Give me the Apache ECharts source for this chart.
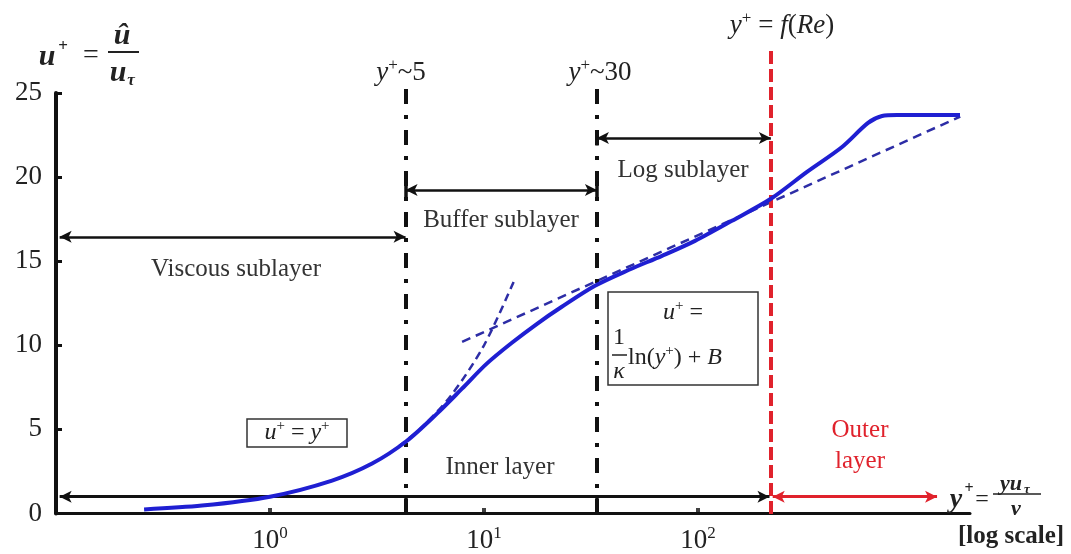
<!DOCTYPE html>
<html>
<head>
<meta charset="utf-8">
<script src="https://cdn.jsdelivr.net/npm/echarts@6/dist/echarts.min.js"></script>
<style>
  html, body { margin: 0; padding: 0; background: #fff; }
  #chart { width: 1071px; height: 554px; }
</style>
</head>
<body>
<div id="chart"></div>
<script>
// Mean velocity profile in wall units (u+ against y+, log scale)
const profileYPlus = [0.258, 0.481, 1.0, 1.95, 3.0, 4.32, 6.03, 7.89, 10.3, 13.5, 17.7, 23.1, 33.0, 47.6, 67.9, 96.8, 144, 219, 323, 471, 623, 724, 851, 1676];
const profileUPlus = [0.24, 0.47, 1.0, 1.96, 2.97, 4.28, 5.94, 7.42, 8.91, 10.15, 11.28, 12.29, 13.54, 14.49, 15.32, 16.21, 17.40, 18.71, 20.31, 21.79, 23.22, 23.63, 23.69, 23.69];

// Viscous-sublayer law u+ = y+ (dashed)
const linearYPlus = [4, 5, 7, 10, 14];
const linearUPlus = [4, 5, 7, 10, 14];

// Log law (dashed)
const logLawYPlus = [7.9, 1680];
const logLawUPlus = [10.2, 23.6];

// Region boundaries in y+
const viscousEdge = 4.3;
const bufferEdge = 33.7;
const outerEdge = 219;

// Axis ranges and tick labels
const xMin = 0.1, xMax = 1866;
const yMin = 0, yMax = 25, yStep = 5;
const xTickValues = [1, 10, 100];
const xTickExponents = ['0', '1', '2'];

// Tops of the boundary lines (u+ units, above the plotted range)
const boundaryTop = 25.36;
const outerBoundaryTop = 27.67;

// Heights of the span arrows (u+ units)
const viscousArrowU = 16.45;
const bufferArrowU = 19.24;
const logArrowU = 22.33;
const layerArrowU = 1.0;
const outerArrowEnd = 1309;
const axisStart = 0.104;

const serif = "'Liberation Serif', 'Times New Roman', serif";
const ink = '#222';
const red = '#e0222c';

// plot area in pixels
const gridLeft = 56, gridRight = 101, gridTop = 93, gridBottom = 40;
const chartHeight = 554;
const pxPerUnit = (chartHeight - gridTop - gridBottom) / (yMax - yMin);
// overlay grid reaching the top edge, same scale, for the boundary lines
const overlayMax = (chartHeight - gridBottom) / pxPerUnit;

const chart = echarts.init(document.getElementById('chart'), null, { renderer: 'canvas' });

function zip(xs, ys) { return xs.map((x, i) => [x, ys[i]]); }

function label(x, y, text, opt) {
  opt = opt || {};
  return {
    type: 'text', x: x, y: y, silent: true, z: 100,
    style: Object.assign({
      text: text,
      fill: opt.color || ink,
      font: (opt.style || 'normal') + ' ' + (opt.weight || 'normal') + ' ' + (opt.size || 24) + 'px ' + serif,
      align: opt.align || 'center',
      verticalAlign: 'middle',
      textAlign: opt.align || 'center',
      textVerticalAlign: 'middle'
    }, opt.rich ? { rich: opt.rich } : {})
  };
}

function mathRich(size, color, bold) {
  const w = bold ? 'bold' : 'normal';
  return {
    i: { fontFamily: serif, fontSize: size, fontStyle: 'italic', fontWeight: w, color: color, lineHeight: size + 4 },
    n: { fontFamily: serif, fontSize: size, fontWeight: w, color: color, lineHeight: size + 4 },
    s: { fontFamily: serif, fontSize: Math.round(size * 0.62), fontWeight: w, color: color, verticalAlign: 'top', lineHeight: Math.round(size * 0.62) }
  };
}

function segment(x1, y1, x2, y2, color, width) {
  return { type: 'line', silent: true, z: 100, shape: { x1: x1, y1: y1, x2: x2, y2: y2 }, style: { stroke: color, lineWidth: width } };
}

const dashDot = [15, 11, 4, 11];
const solidBlack = { color: '#111', width: 3.5, type: 'solid' };

function vline(x, u0, u1, style) {
  return [{ coord: [x, u0], lineStyle: style }, { coord: [x, u1] }];
}

function span(x0, x1, u, color, width) {
  return [{ coord: [x0, u], lineStyle: { color: color, width: width, type: 'solid' }, itemStyle: { color: color } }, { coord: [x1, u] }];
}

const option = {
  animation: false,
  backgroundColor: '#fff',
  grid: [
    { left: gridLeft, right: gridRight, top: gridTop, bottom: gridBottom, containLabel: false },
    { left: gridLeft, right: gridRight, top: 0, bottom: gridBottom, containLabel: false }
  ],
  xAxis: [
    {
      type: 'log', logBase: 10, min: xMin, max: xMax, gridIndex: 0,
      axisLine: { show: true, lineStyle: { color: '#111', width: 3 } },
      axisTick: { show: false },
      splitLine: { show: false },
      axisLabel: {
        margin: 12,
        formatter: function (v) {
          const k = xTickValues.findIndex(t => Math.abs(Math.log10(t) - Math.log10(v)) < 1e-6);
          return k >= 0 ? '{b|10}{s|' + xTickExponents[k] + '}' : '';
        },
        rich: {
          b: { fontFamily: serif, fontSize: 27, color: ink, lineHeight: 30 },
          s: { fontFamily: serif, fontSize: 17, color: ink, verticalAlign: 'top', lineHeight: 17 }
        }
      }
    },
    {
      type: 'log', logBase: 10, min: xMin, max: xMax, gridIndex: 1, show: false,
      splitLine: { show: false }
    }
  ],
  yAxis: [
    {
      type: 'value', min: yMin, max: yMax, interval: yStep, gridIndex: 0,
      axisLine: { show: true, lineStyle: { color: '#111', width: 4 } },
      axisTick: { show: true, inside: true, length: 6, lineStyle: { color: '#111', width: 3 } },
      splitLine: { show: false },
      axisLabel: { margin: 14, fontFamily: serif, fontSize: 27, color: ink }
    },
    {
      type: 'value', min: yMin, max: overlayMax, gridIndex: 1, show: false,
      splitLine: { show: false }
    }
  ],
  series: [
    {
      name: 'boundaries', type: 'line', data: [], clip: false, xAxisIndex: 1, yAxisIndex: 1, z: 2,
      markLine: {
        silent: true, symbol: ['none', 'none'], label: { show: false }, animation: false,
        data: [
          vline(viscousEdge, 0, boundaryTop, { color: '#111', width: 4, type: dashDot }),
          vline(bufferEdge, 0, boundaryTop, { color: '#111', width: 4, type: dashDot }),
          vline(outerEdge, 0, outerBoundaryTop, { color: red, width: 4, type: [13, 5] }),
          vline(viscousEdge, 0, layerArrowU, solidBlack),
          vline(bufferEdge, 0, layerArrowU, solidBlack),
          vline(viscousEdge, bufferArrowU - 0.45, bufferArrowU + 0.45, solidBlack),
          vline(bufferEdge, bufferArrowU - 0.45, bufferArrowU + 0.45, solidBlack),
          vline(bufferEdge, logArrowU - 0.45, logArrowU + 0.45, solidBlack)
        ]
      }
    },
    {
      name: 'profile', type: 'line', data: zip(profileYPlus, profileUPlus),
      smooth: 0.3, showSymbol: false, clip: false, z: 5,
      lineStyle: { color: '#1f1fd2', width: 4 }
    },
    {
      name: 'linear law', type: 'line', data: zip(linearYPlus, linearUPlus),
      smooth: 0.3, showSymbol: false, clip: false, z: 4,
      lineStyle: { color: '#2d2da6', width: 2.5, type: [8, 5] }
    },
    {
      name: 'log law', type: 'line', data: zip(logLawYPlus, logLawUPlus),
      showSymbol: false, clip: false, z: 4,
      lineStyle: { color: '#2d2da6', width: 2.5, type: [9, 6] }
    },
    {
      name: 'axis ticks', type: 'scatter', data: xTickValues.map(v => [v, 0]),
      symbol: 'rect', symbolSize: [4, 5], symbolOffset: [0, -3], clip: false, z: 3,
      itemStyle: { color: '#111' }, silent: true
    },
    {
      name: 'spans', type: 'line', data: [], clip: false, z: 3,
      markLine: {
        silent: true, symbol: ['arrow', 'arrow'], symbolSize: [9, 12], label: { show: false }, animation: false,
        data: [
          span(axisStart, viscousEdge, viscousArrowU, '#111', 2.5),
          span(viscousEdge, bufferEdge, bufferArrowU, '#111', 2.5),
          span(bufferEdge, outerEdge, logArrowU, '#111', 2.5),
          span(axisStart, outerEdge * 0.985, layerArrowU, '#111', 3),
          span(outerEdge * 1.02, outerArrowEnd, layerArrowU, red, 3)
        ]
      }
    }
  ],
  graphic: [
    // y-axis title  u+ = û / uτ
    label(47, 57, 'u', { style: 'italic', weight: 'bold', size: 30 }),
    label(63, 47, '+', { weight: 'bold', size: 17 }),
    label(91, 56, '=', { size: 28 }),
    label(122, 36, 'û', { style: 'italic', weight: 'bold', size: 30 }),
    segment(108, 52, 139, 52, ink, 2),
    label(118, 73, 'u', { style: 'italic', weight: 'bold', size: 30 }),
    label(131, 81, 'τ', { style: 'italic', weight: 'bold', size: 17 }),

    // boundary labels
    label(401, 73, '{i|y}{s|+}{n|~5}', { rich: mathRich(27, ink) }),
    label(600, 73, '{i|y}{s|+}{n|~30}', { rich: mathRich(27, ink) }),
    label(782, 26, '{i|y}{s|+}{n| = }{i|f}{n|(}{i|Re}{n|)}', { rich: mathRich(27, red) }),

    // region labels
    label(236, 269, 'Viscous sublayer', { size: 25, color: '#333' }),
    label(501, 220, 'Buffer sublayer', { size: 25, color: '#333' }),
    label(683, 170, 'Log sublayer', { size: 25, color: '#333' }),
    label(500, 467, 'Inner layer', { size: 25, color: '#333' }),
    label(860, 430, 'Outer', { size: 25, color: red }),
    label(860, 461, 'layer', { size: 25, color: red }),

    // law boxes
    { type: 'rect', silent: true, z: 100, shape: { x: 247, y: 419, width: 100, height: 28 }, style: { fill: '#fff', stroke: '#333', lineWidth: 1.5 } },
    label(297, 433, '{i|u}{s|+}{n| = }{i|y}{s|+}', { rich: mathRich(24, ink) }),
    { type: 'rect', silent: true, z: 100, shape: { x: 608, y: 292, width: 150, height: 93 }, style: { fill: '#fff', stroke: '#333', lineWidth: 1.5 } },
    label(683, 313, '{i|u}{s|+}{n| =}', { rich: mathRich(24, ink) }),
    label(619, 338, '1', { size: 24 }),
    segment(612, 355, 627, 355, ink, 1.5),
    label(619, 372, 'κ', { style: 'italic', size: 24 }),
    label(628, 358, '{n|ln(}{i|y}{s|+}{n|) + }{i|B}', { rich: mathRich(24, ink), align: 'left' }),

    // x-axis title  y+ = yuτ / ν
    label(956, 500, 'y', { style: 'italic', weight: 'bold', size: 28 }),
    label(969, 489, '+', { weight: 'bold', size: 16 }),
    label(982, 500, '=', { size: 24 }),
    label(1011, 484, 'yu', { style: 'italic', weight: 'bold', size: 22 }),
    label(1027, 490, 'τ', { style: 'italic', weight: 'bold', size: 13 }),
    segment(993, 494, 1041, 494, ink, 1.5),
    label(1016, 509, 'ν', { style: 'italic', weight: 'bold', size: 22 }),
    label(1011, 537, '[log scale]', { weight: 'bold', size: 25 })
  ]
};

chart.setOption(option);
</script>
</body>
</html>
